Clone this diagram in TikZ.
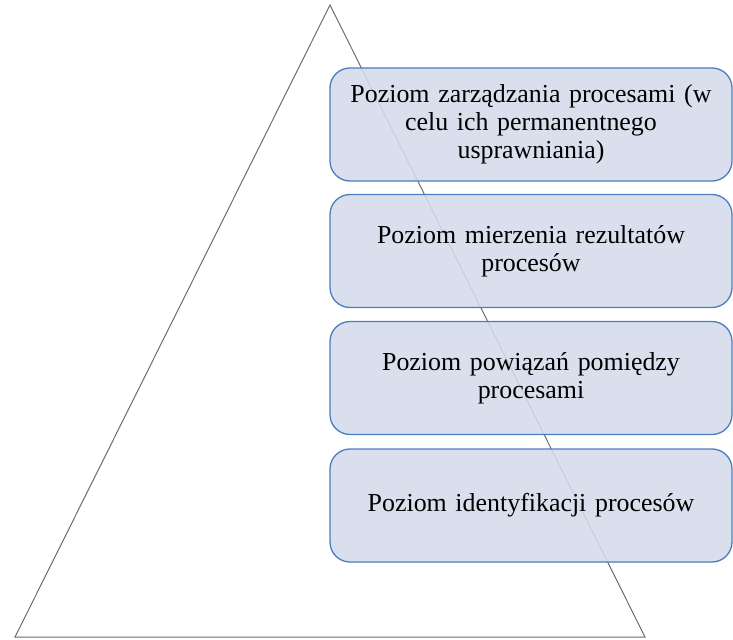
\documentclass[tikz,border=0pt]{standalone}
\usepackage{fontspec}
\setmainfont{Liberation Serif}
\begin{document}
\begin{tikzpicture}[x=1bp,y=-1bp,
  level/.style={draw=levelborder, line width=1.3bp, fill=levelfill,
    fill opacity=0.88, text opacity=1, rounded corners=20bp,
    minimum width=402bp, minimum height=113bp, inner sep=0pt,
    align=center, text width=400bp, font=\fontsize{26}{28}\selectfont},
  pyramid/.style={draw=gray!85!black, line width=1bp, line join=miter}]
\definecolor{levelborder}{HTML}{4A7EBF}
\definecolor{levelfill}{HTML}{D4DBEA}
\useasboundingbox (0,0) rectangle (733,640);
% pyramid outline
\coordinate (apex) at (330,5);
\coordinate (bl) at (15,637);
\coordinate (br) at (645,637);
\draw[pyramid] (apex) -- (br) -- (bl) -- cycle;
% levels, top to bottom
\node[level] (l1) at (531,124.5) {Poziom zarządzania procesami (w\\celu ich permanentnego\\usprawniania)};
\node[level] (l2) at (531,251) {Poziom mierzenia rezultatów\\procesów};
\node[level] (l3) at (531,378) {Poziom powiązań pomiędzy\\procesami};
\node[level] (l4) at (531,505.5) {Poziom identyfikacji procesów};
\end{tikzpicture}
\end{document}
